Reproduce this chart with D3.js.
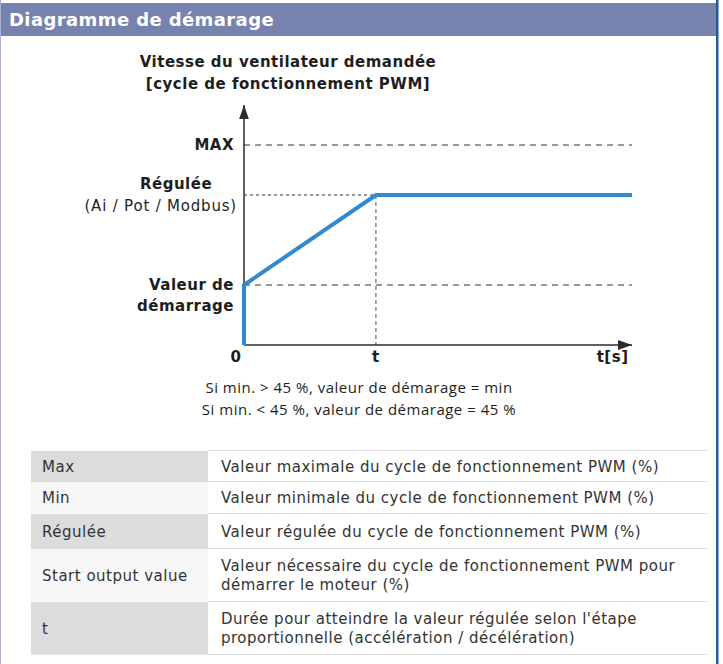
<!DOCTYPE html>
<html><head><meta charset="utf-8">
<script src="https://cdn.jsdelivr.net/npm/d3@7"></script>
<style>
html,body{margin:0;padding:0;background:#fff;}
svg{display:block;}
</style></head>
<body>
<script>
// ---- data ----
const headerTitle = "Diagramme de démarage";
const chartTitle = ["Vitesse du ventilateur demandée", "[cycle de fonctionnement PWM]"];
const levelNames = ["start", "regulated", "max"];
const levelValues = [30, 75, 100];
const tValue = 3.4;
const tEnd = 10;
const seriesT = [0, 0, 3.4, 10];
const seriesV = [0, 30, 75, 75];
const xTickLabels = ["0", "t", "t[s]"];
const xTickValues = [0, 3.4, 9.5];
const notes = ["Si min. > 45 %, valeur de démarage = min", "Si min. < 45 %, valeur de démarage = 45 %"];
const tableKeys = ["Max", "Min", "Régulée", "Start output value", "t"];
const tableDescs = [
  ["Valeur maximale du cycle de fonctionnement PWM (%)"],
  ["Valeur minimale du cycle de fonctionnement PWM (%)"],
  ["Valeur régulée du cycle de fonctionnement PWM (%)"],
  ["Valeur nécessaire du cycle de fonctionnement PWM pour", "démarrer le moteur (%)"],
  ["Durée pour atteindre la valeur régulée selon l'étape", "proportionnelle (accélération / décélération)"]
];

const W = 723, H = 664;
const svg = d3.select("body").append("svg").attr("width", W).attr("height", H);
const defs = svg.append("defs");
defs.append("marker").attr("id","arr").attr("viewBox","0 0 10 10").attr("refX",10).attr("refY",5)
  .attr("markerWidth",14).attr("markerHeight",14).attr("markerUnits","userSpaceOnUse").attr("orient","auto")
  .append("path").attr("d","M0,1.5 L10,5 L0,8.5 Z").attr("fill","#2b2b2b");

// frame
svg.append("rect").attr("x",0).attr("y",0).attr("width",W).attr("height",H).attr("fill","#fff");
svg.append("rect").attr("x",0).attr("y",3).attr("width",716).attr("height",33).attr("fill","#7783ae");
svg.append("line").attr("x1",0.5).attr("x2",0.5).attr("y1",0).attr("y2",H).attr("stroke","#aab3d3").attr("stroke-width",1);
svg.append("rect").attr("x",716).attr("y",0).attr("width",2.5).attr("height",H).attr("fill","#1f5d99");
svg.append("text").attr("x",9).attr("y",26).text(headerTitle)
  .attr("font-family","'DejaVu Sans', Verdana, sans-serif").attr("font-weight","bold").attr("font-size",18)
  .attr("letter-spacing",0.4).attr("fill","#fff");

// chart
const x = d3.scaleLinear().domain([0, tEnd]).range([244, 632]);
const y = d3.scaleLinear().domain([0, 100]).range([345, 145]);
const font = "'DejaVu Sans', Verdana, sans-serif";
const g = svg.append("g").attr("font-family", font).attr("fill","#1e1e1e");

g.selectAll("text.ct").data(chartTitle).join("text").attr("class","ct")
  .attr("x",288).attr("y",(d,i)=>67+i*22).attr("text-anchor","middle")
  .attr("font-weight","bold").attr("font-size",15).attr("letter-spacing",0.5).text(d=>d);

// guide lines
const lv = i => levelValues[i];
g.append("line").attr("x1",x(0)).attr("x2",x(tEnd)).attr("y1",y(lv(2))).attr("y2",y(lv(2)))
  .attr("stroke","#333").attr("stroke-width",1.2).attr("stroke-dasharray","6,5");
g.append("line").attr("x1",x(0)).attr("x2",x(tEnd)).attr("y1",y(lv(0))).attr("y2",y(lv(0)))
  .attr("stroke","#333").attr("stroke-width",1.2).attr("stroke-dasharray","6,5");
g.append("line").attr("x1",x(0)).attr("x2",x(tValue)).attr("y1",y(lv(1))).attr("y2",y(lv(1)))
  .attr("stroke","#333").attr("stroke-width",1).attr("stroke-dasharray","3,3");
g.append("line").attr("x1",x(tValue)).attr("x2",x(tValue)).attr("y1",y(lv(1))).attr("y2",y(0))
  .attr("stroke","#777").attr("stroke-width",1.3).attr("stroke-dasharray","4,3");

// axes
g.append("line").attr("x1",x(0)).attr("x2",x(0)).attr("y1",y(0)).attr("y2",y(120))
  .attr("stroke","#2b2b2b").attr("stroke-width",1.5).attr("marker-end","url(#arr)");
g.append("line").attr("x1",x(0)).attr("x2",x(tEnd)).attr("y1",y(0)).attr("y2",y(0))
  .attr("stroke","#2b2b2b").attr("stroke-width",1.5).attr("marker-end","url(#arr)");

// series
const pts = seriesT.map((t,i)=>[t, seriesV[i]]);
g.append("path").datum(pts)
  .attr("d", d3.line().x(d=>x(d[0])).y(d=>y(d[1])))
  .attr("fill","none").attr("stroke","#3189cf").attr("stroke-width",4).attr("stroke-linejoin","miter");

// level labels
const lab = (xx, yy, t, bold, anchor) => g.append("text").attr("x",xx).attr("y",yy)
  .attr("text-anchor",anchor||"end").attr("font-weight",bold?"bold":"normal")
  .attr("font-size",15).attr("letter-spacing",bold?0.5:0.8).text(t);
lab(234, y(lv(2))+5, "MAX", true);
lab(176, y(lv(1))-6, "Régulée", true, "middle");
lab(237, y(lv(1))+16, "(Ai / Pot / Modbus)", false);
lab(234, y(lv(0))+5, "Valeur de", true);
lab(234, y(lv(0))+26, "démarrage", true);

// x tick labels
g.selectAll("text.xt").data(xTickLabels).join("text").attr("class","xt")
  .attr("x",(d,i)=> i===0 ? x(xTickValues[i])-8 : x(xTickValues[i]))
  .attr("y",362).attr("text-anchor","middle").attr("font-weight","bold").attr("font-size",15)
  .attr("letter-spacing",0.5).text(d=>d);

// notes
svg.selectAll("text.note").data(notes).join("text").attr("class","note")
  .attr("x",359).attr("y",(d,i)=>393+i*22).attr("text-anchor","middle")
  .attr("font-family","'Open Sans', 'Noto Sans', sans-serif").attr("font-size",15)
  .attr("letter-spacing",0.5).attr("fill","#1e1e1e").text(d=>d);

// table
const rowTops = [451, 482, 514, 549, 602, 655];
const tx0 = 31, tx1 = 208, tx2 = 707;
const tg = svg.append("g").attr("font-family", font).attr("font-size",15).attr("letter-spacing",0.5).attr("fill","#333");
tableKeys.forEach((k,i)=>{
  const top = rowTops[i], bot = rowTops[i+1];
  tg.append("rect").attr("x",tx0).attr("y",top).attr("width",tx1-tx0).attr("height",bot-top)
    .attr("fill", i%2===0 ? "#dcdcdc" : "#f7f7f7");
  tg.append("line").attr("x1",tx1).attr("x2",tx2).attr("y1",bot-0.5).attr("y2",bot-0.5).attr("stroke","#dedede");
  const mid = (top+bot)/2;
  tg.append("text").attr("x",42).attr("y",mid+5).text(k).attr("fill","#333");
  const lines = tableDescs[i];
  lines.forEach((l,j)=>{
    tg.append("text").attr("x",221).attr("y",mid+5+(j-(lines.length-1)/2)*19).text(l).attr("fill","#333");
  });
});
tg.append("line").attr("x1",tx1).attr("x2",tx2).attr("y1",rowTops[0]-0.5).attr("y2",rowTops[0]-0.5).attr("stroke","#dedede");
tg.append("line").attr("x1",tx0).attr("x2",tx1).attr("y1",rowTops[5]-0.5).attr("y2",rowTops[5]-0.5).attr("stroke","#e8e8e8");
</script>
</body></html>
